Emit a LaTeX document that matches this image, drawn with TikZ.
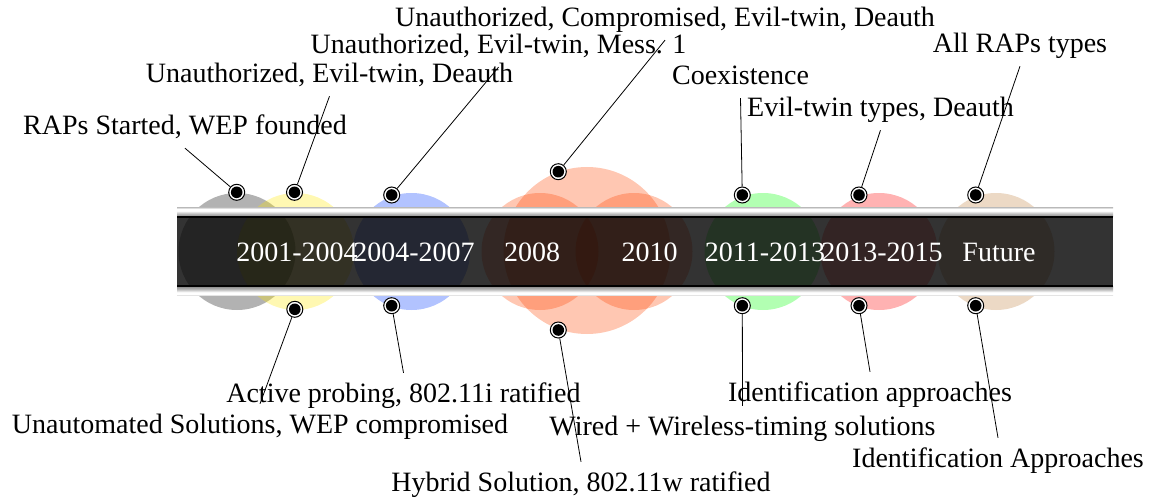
\documentclass[tikz,border=0pt]{standalone}
\usepackage{fontspec}
\setmainfont{Liberation Serif}
\usetikzlibrary{shapes.geometric}

% circle tints (drawn with fill opacity)
\definecolor{cgray}{RGB}{0,0,0}
\definecolor{cyellow}{RGB}{255,232,0}
\definecolor{cblue}{RGB}{0,55,255}
\definecolor{csalmon}{RGB}{255,69,0}
\definecolor{cgreen}{RGB}{0,255,0}
\definecolor{cpink}{RGB}{255,0,0}
\definecolor{cbeige}{RGB}{191,128,64}

% glossy rims above and below the band
\pgfdeclareverticalshading{rimtop}{100bp}{color(0bp)=(gray!90); color(25bp)=(gray!90);
  color(40bp)=(gray!55); color(57bp)=(white); color(68bp)=(white); color(75bp)=(gray!35); color(100bp)=(gray!35)}
\pgfdeclareverticalshading{rimbottom}{100bp}{color(0bp)=(gray!35); color(25bp)=(gray!35);
  color(32bp)=(white); color(43bp)=(white); color(60bp)=(gray!55); color(75bp)=(gray!90); color(100bp)=(gray!90)}

\newcommand\tstrut{\rule[-9pt]{0pt}{34pt}}

\tikzset{
  era/.style={fill=#1, fill opacity=0.3, draw=none},
  lbl/.style={font=\fontsize{28}{34}\selectfont, inner sep=4pt, anchor=base,
              execute at begin node=\tstrut},
  yr/.style={font=\fontsize{28}{34}\selectfont, text=white, inner sep=0pt, anchor=base},
  pin/.style={circle, fill=white, draw=black, line width=1pt, minimum size=16pt,
              inner sep=0pt,
              path picture={\fill[black] (path picture bounding box.center) circle[radius=5.8pt];}},
  link/.style={draw=black, line width=0.8pt}
}

\begin{document}
\begin{tikzpicture}[x=1pt, y=-1pt]
\useasboundingbox (0,0) rectangle (1157,500);

% era circles
\fill[era=cgray]    (237,251.5)   circle[radius=58.5pt];
\fill[era=cyellow]  (295.5,251.5) circle[radius=58.5pt];
\fill[era=cblue]    (411.5,251.5) circle[radius=58.5pt];
\fill[era=csalmon]  (587,250.5)   circle[radius=83.5pt];
\fill[era=csalmon]  (540,251.5)   circle[radius=58.5pt];
\fill[era=csalmon]  (634,251.5)   circle[radius=58.5pt];
\fill[era=cgreen]   (763,251.5)   circle[radius=58.5pt];
\fill[era=cpink]    (879,251.5)   circle[radius=58.5pt];
\fill[era=cbeige]   (996,251.5)   circle[radius=58.5pt];

% timeline band
\fill[black, fill opacity=0.8] (177,217) rectangle (1113,286);
\shade[shading=rimtop]    (177,207.7) rectangle (1113,216.4);
\shade[shading=rimbottom] (177,286.6) rectangle (1113,295.5);
\draw[black, line width=1.5pt] (177,217) -- (1113,217);
\draw[black, line width=1.5pt] (177,286) -- (1113,286);

% period names on the band
\node[yr] (y1) at (297,261)   {2001-2004};
\node[yr] (y2) at (414,261)   {2004-2007};
\node[yr] (y3) at (532,261)   {2008};
\node[yr] (y4) at (649.5,261) {2010};
\node[yr] (y5) at (765,261)   {2011-2013};
\node[yr] (y6) at (882,261)   {2013-2015};
\node[yr] (y7) at (999,261)   {Future};

% threats (above)
\node[lbl] (t1) at (185,135)   {RAPs Started, WEP founded};
\node[lbl] (t2) at (329.5,83)  {Unauthorized, Evil-twin, Deauth};
\node[lbl] (t3) at (498.5,54)  {Unauthorized, Evil-twin, Mess. 1};
\node[lbl] (t4) at (665,27)    {Unauthorized, Compromised, Evil-twin, Deauth};
\node[lbl] (t5) at (740.5,85)  {Coexistence};
\node[lbl] (t6) at (880.5,117) {Evil-twin types, Deauth};
\node[lbl] (t7) at (1020,53)   {All RAPs types};

% solutions (below)
\node[lbl] (b1) at (260,433)   {Unautomated Solutions, WEP compromised};
\node[lbl] (b2) at (403.5,402) {Active probing, 802.11i ratified};
\node[lbl] (b3) at (581,491)   {Hybrid Solution, 802.11w ratified};
\node[lbl] (b4) at (742.5,435) {Wired + Wireless-timing solutions};
\node[lbl] (b5) at (870,401)   {Identification approaches};
\node[lbl] (b6) at (998,467)   {Identification Approaches};

% pins on the circles
\node[pin] (p1) at (236.7,192.3) {};
\node[pin] (p2) at (294.5,192.3) {};
\node[pin] (p3) at (391.7,195)   {};
\node[pin] (p4) at (558.3,171.7) {};
\node[pin] (p5) at (742.3,195)   {};
\node[pin] (p6) at (859,195)     {};
\node[pin] (p7) at (975.7,195)   {};

\node[pin] (q2) at (294.8,309.3) {};
\node[pin] (q3) at (391.7,305.7) {};
\node[pin] (q4) at (558.3,330)   {};
\node[pin] (q5) at (742.3,305.7) {};
\node[pin] (q6) at (859,305.7)   {};
\node[pin] (q7) at (975.7,305.7) {};

% leader lines
\draw[link] (p1) -- (t1.south);
\draw[link] (p2) -- (t2.south);
\draw[link] (p3) -- (t3.south);
\draw[link] (p4) -- (t4.south);
\draw[link] (p5) -- (t5.south);
\draw[link] (p6) -- (t6.south);
\draw[link] (p7) -- (t7.south);

\draw[link] (q2) -- (b1.north);
\draw[link] (q3) -- (b2.north);
\draw[link] (q4) -- (b3.north);
\draw[link] (q5) -- (b4.north);
\draw[link] (q6) -- (b5.north);
\draw[link] (q7) -- (b6.north);
\end{tikzpicture}
\end{document}
